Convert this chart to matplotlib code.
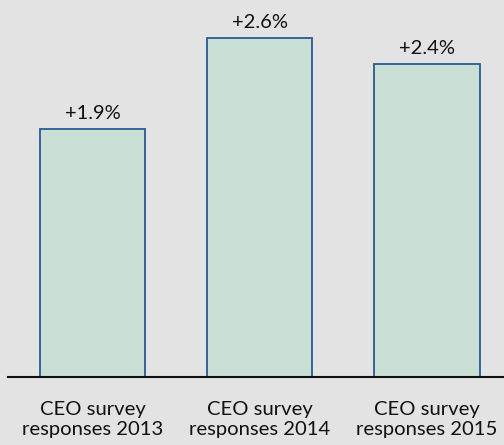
import matplotlib
matplotlib.use("Agg")
import matplotlib.pyplot as plt

categories = ["CEO survey\nresponses 2013", "CEO survey\nresponses 2014", "CEO survey\nresponses 2015"]
values = [1.9, 2.6, 2.4]
value_labels = ["+1.9%", "+2.6%", "+2.4%"]

bg = "#e3e3e3"
fill = "#c9dfd6"
edge = "#2a5a92"

plt.rcParams["font.family"] = ["Lato", "DejaVu Sans"]

fig = plt.figure(figsize=(5.04, 4.45), dpi=100, facecolor=bg)
ax = fig.add_axes([8 / 504, 68 / 445, 496 / 504, 377 / 445])
ax.set_facecolor(bg)

x = range(len(values))
bars = ax.bar(x, values, width=0.63, color=fill, edgecolor=edge, linewidth=1.3, zorder=2)

for xi, v, lab in zip(x, values, value_labels):
    ax.annotate(lab, (xi, v), xytext=(0, 5), textcoords="offset points",
                ha="center", va="bottom", fontsize=14.5, color="#111111")

ax.set_xlim(-0.505, 2.46)
ax.set_ylim(0, 2.889)

for spine in ["top", "right", "left"]:
    ax.spines[spine].set_visible(False)
ax.spines["bottom"].set_color("#111111")
ax.spines["bottom"].set_linewidth(1.5)
ax.set_yticks([])
ax.set_xticks(list(x))
ax.set_xticklabels(categories, fontsize=14.6, color="#111111", linespacing=1.22)
ax.tick_params(axis="x", length=0, pad=17)

fig.savefig("out.png", dpi=100, facecolor=bg)
